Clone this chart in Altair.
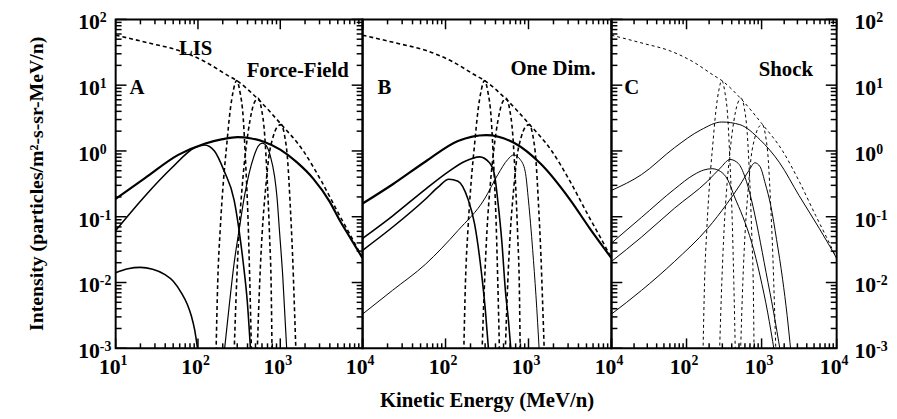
import altair as alt
import pandas as pd

# ---------------- data (log10 E [MeV/n], log10 Intensity) -------------
LIS_LE = [1.00, 1.44, 1.76, 2.08, 2.36, 2.47, 2.72, 3.00, 3.28, 3.50, 3.72, 3.86, 4.00]
LIS_LI = [1.76, 1.63, 1.53, 1.36, 1.15, 1.07, 0.80, 0.42, 0.00, -0.46, -0.98, -1.30, -1.63]

D1_LE = [2.22, 2.24, 2.27, 2.31, 2.35, 2.39, 2.43, 2.47, 2.51, 2.55, 2.58, 2.61, 2.63, 2.65]
D1_LI = [-3.05, -2.0, -1.2, -0.45, 0.1, 0.6, 0.92, 1.07, 0.9, 0.5, -0.2, -1.1, -2.0, -3.05]
D2_LE = [2.44, 2.47, 2.50, 2.54, 2.58, 2.63, 2.68, 2.73, 2.77, 2.81, 2.84, 2.87, 2.89, 2.90]
D2_LI = [-3.05, -2.0, -1.2, -0.5, 0.0, 0.45, 0.72, 0.80, 0.65, 0.25, -0.4, -1.3, -2.1, -3.05]
D3_LE = [2.72, 2.75, 2.78, 2.82, 2.86, 2.91, 2.96, 3.01, 3.05, 3.09, 3.12, 3.15, 3.17, 3.19]
D3_LI = [-3.05, -2.0, -1.25, -0.6, -0.1, 0.2, 0.36, 0.40, 0.25, -0.15, -0.8, -1.6, -2.3, -3.05]

# Panel A (force-field)
A_ENV_LE = [1.0, 1.36, 1.76, 2.08, 2.30, 2.48, 2.65, 2.80, 3.00, 3.20, 3.40, 3.60, 3.72, 3.84, 4.00]
A_ENV_LI = [-0.73, -0.41, -0.06, 0.11, 0.18, 0.21, 0.19, 0.14, 0.02, -0.17, -0.42, -0.77, -1.05, -1.30, -1.63]
A_2_LE = [1.0, 1.36, 1.68, 1.96, 2.08, 2.20, 2.32, 2.44, 2.50, 2.55, 2.60, 2.64]
A_2_LI = [-1.21, -0.68, -0.26, 0.05, 0.09, 0.0, -0.31, -0.75, -1.21, -1.7, -2.3, -3.05]
A_3_LE = [2.32, 2.38, 2.44, 2.50, 2.56, 2.62, 2.68, 2.73, 2.78, 2.83, 2.88, 2.93, 2.96, 2.99, 3.03, 3.08]
A_3_LI = [-3.05, -2.35, -1.7, -1.2, -0.72, -0.35, -0.08, 0.07, 0.12, 0.08, -0.08, -0.38, -0.7, -1.21, -1.9, -3.05]
A_4_LE = [1.0, 1.15, 1.30, 1.45, 1.60, 1.70, 1.80, 1.87, 1.92, 1.96, 2.00]
A_4_LI = [-1.85, -1.79, -1.77, -1.80, -1.88, -1.98, -2.16, -2.33, -2.51, -2.72, -3.05]

# Panel B (one dimensional)
B_ENV_LE = [1.0, 1.36, 1.76, 2.15, 2.49, 2.83, 3.15, 3.50, 3.74, 4.00]
B_ENV_LI = [-0.80, -0.51, -0.16, 0.15, 0.24, 0.12, -0.20, -0.74, -1.18, -1.63]
B_1_LE = [1.0, 1.36, 1.76, 1.91, 2.04, 2.15, 2.27, 2.35, 2.43, 2.48, 2.52]
B_1_LI = [-1.51, -1.16, -0.73, -0.55, -0.43, -0.46, -0.73, -1.11, -1.82, -2.42, -3.05]
B_2_LE = [1.0, 1.36, 1.76, 2.04, 2.23, 2.41, 2.53, 2.59, 2.63, 2.68, 2.72, 2.76, 2.79]
B_2_LI = [-1.33, -0.99, -0.58, -0.31, -0.16, -0.09, -0.18, -0.36, -0.76, -1.4, -2.1, -2.6, -3.05]
B_3_LE = [1.0, 1.36, 1.76, 2.15, 2.47, 2.63, 2.75, 2.82, 2.90, 2.96, 3.00, 3.05, 3.09, 3.13]
B_3_LI = [-2.48, -2.12, -1.72, -1.21, -0.73, -0.36, -0.13, -0.06, -0.13, -0.31, -0.76, -1.5, -2.2, -3.05]

# Panel C (shock)
C_ENV_LE = [1.0, 1.40, 1.84, 2.19, 2.47, 2.71, 2.98, 3.24, 3.50, 3.77, 4.00]
C_ENV_LI = [-0.60, -0.36, 0.05, 0.32, 0.44, 0.40, 0.17, -0.18, -0.68, -1.18, -1.63]
C_1_LE = [1.0, 1.40, 1.84, 2.10, 2.23, 2.34, 2.45, 2.55, 2.64, 2.75, 2.87, 2.98, 3.08, 3.17]
C_1_LI = [-1.40, -1.01, -0.58, -0.36, -0.29, -0.27, -0.31, -0.44, -0.70, -1.0, -1.4, -1.9, -2.45, -3.05]
C_2_LE = [1.0, 1.40, 1.84, 2.28, 2.45, 2.58, 2.69, 2.78, 2.86, 2.96, 3.06, 3.16, 3.25]
C_2_LI = [-1.68, -1.31, -0.87, -0.46, -0.26, -0.13, -0.19, -0.40, -0.72, -1.25, -1.85, -2.45, -3.05]
C_3_LE = [1.0, 1.40, 1.84, 2.28, 2.54, 2.71, 2.83, 2.91, 2.98, 3.05, 3.12, 3.20, 3.28, 3.34, 3.39]
C_3_LI = [-2.48, -2.12, -1.68, -1.18, -0.80, -0.52, -0.30, -0.18, -0.24, -0.50, -0.82, -1.35, -1.95, -2.5, -3.05]

# tick values / labels
X_MAJOR = [10, 100, 1000, 10000]
X_MINOR = [m * 10 ** d for d in (1, 2, 3) for m in range(2, 10)]
Y_MAJOR = [100, 10, 1, 0.1, 0.01, 0.001]
Y_MINOR = [m * 10.0 ** d for d in (-3, -2, -1, 0, 1) for m in range(2, 10)]
Y_EXP = ["2", "1", "0", "-1", "-2", "-3"]
X_EXP = {10: "1", 100: "2", 1000: "3", 10000: "4"}

H = 333
FONT = "Liberation Serif, Times New Roman, Times, DejaVu Serif, serif"
XS = alt.Scale(type="log", domain=[10, 10000], nice=False)
YS = alt.Scale(type="log", domain=[0.001, 100], nice=False)


def curve(le, li, width, dash=None):
    df = pd.DataFrame({"E": [10 ** v for v in le], "I": [10 ** v for v in li],
                       "o": list(range(len(le)))})
    kw = dict(color="black", strokeWidth=width, clip=True, interpolate="monotone")
    if dash:
        kw["strokeDash"] = dash
    return alt.Chart(df).mark_line(**kw).encode(
        x=alt.X("E:Q", scale=XS, axis=None),
        y=alt.Y("I:Q", scale=YS, axis=None),
        order="o:Q")


def xticks():
    out = []
    for vals, ln in ((X_MAJOR, 10), (X_MINOR, 5)):
        df = pd.DataFrame({"E": vals})
        base = alt.Chart(df).mark_rule(color="black", strokeWidth=1.5)
        out.append(base.encode(x=alt.X("E:Q", scale=XS, axis=None),
                               y=alt.value(H), y2=alt.value(H - ln)))
        out.append(base.encode(x=alt.X("E:Q", scale=XS, axis=None),
                               y=alt.value(0), y2=alt.value(ln)))
    return out


def yticks(W, left=True, right=True):
    out = []
    for vals, ln in ((Y_MAJOR, 11), (Y_MINOR, 6)):
        df = pd.DataFrame({"I": vals})
        base = alt.Chart(df).mark_rule(color="black", strokeWidth=1.5)
        if left:
            out.append(base.encode(y=alt.Y("I:Q", scale=YS, axis=None),
                                   x=alt.value(0), x2=alt.value(ln)))
        if right:
            out.append(base.encode(y=alt.Y("I:Q", scale=YS, axis=None),
                                   x=alt.value(W), x2=alt.value(W - ln)))
    return out


def xlabels(vals):
    df = pd.DataFrame({"E": vals, "t": ["10"] * len(vals), "e": [X_EXP[v] for v in vals]})
    a = alt.Chart(df).mark_text(font=FONT, fontWeight="bold", fontSize=22, align="right",
                                baseline="alphabetic", dx=5).encode(
        x=alt.X("E:Q", scale=XS, axis=None), y=alt.value(H + 26), text="t:N")
    b = alt.Chart(df).mark_text(font=FONT, fontWeight="bold", fontSize=14, align="left",
                                baseline="alphabetic", dx=5).encode(
        x=alt.X("E:Q", scale=XS, axis=None), y=alt.value(H + 17), text="e:N")
    return [a, b]


def ylabels(xanchor):
    df = pd.DataFrame({"I": Y_MAJOR, "t": ["10"] * len(Y_MAJOR), "e": Y_EXP})
    a = alt.Chart(df).mark_text(font=FONT, fontWeight="bold", fontSize=22, align="right",
                                baseline="alphabetic", dy=10).encode(
        y=alt.Y("I:Q", scale=YS, axis=None), x=alt.value(xanchor), text="t:N")
    b = alt.Chart(df).mark_text(font=FONT, fontWeight="bold", fontSize=14, align="left",
                                baseline="alphabetic", dy=3).encode(
        y=alt.Y("I:Q", scale=YS, axis=None), x=alt.value(xanchor), text="e:N")
    return [a, b]


def label(txt, x, y, align="left", size=21, angle=0):
    kw = dict(font=FONT, fontWeight="bold", fontSize=size, align=align, baseline="alphabetic")
    if angle:
        kw["angle"] = angle
    return alt.Chart(pd.DataFrame({"t": [txt]})).mark_text(**kw).encode(
        x=alt.value(x), y=alt.value(y), text="t:N")


def dashed(w, d):
    return [curve(LIS_LE, LIS_LI, w, d), curve(D1_LE, D1_LI, w, d),
            curve(D2_LE, D2_LI, w, d), curve(D3_LE, D3_LI, w, d)]


# ---------------- Panel A ----------------
WA = 250
A_layers = dashed(1.6, [4, 3]) + [
    curve(A_ENV_LE, A_ENV_LI, 2.2), curve(A_2_LE, A_2_LI, 1.6),
    curve(A_3_LE, A_3_LI, 1.2), curve(A_4_LE, A_4_LI, 1.6)]
A_layers += xticks() + yticks(WA) + xlabels(X_MAJOR) + ylabels(-16)
A_layers += [label("LIS", 81, 36, "center"), label("Force-Field", 236, 58, "right"),
             label("A", 14, 76),
             label("Intensity (particles/m²-s-sr-MeV/n)", -74, H / 2, "center", 20, 270)]
panelA = alt.layer(*A_layers).properties(width=WA, height=H)

# ---------------- Panel B ----------------
WB = 252
B_layers = dashed(1.6, [4, 3]) + [
    curve(B_ENV_LE, B_ENV_LI, 2.2), curve(B_1_LE, B_1_LI, 1.6),
    curve(B_2_LE, B_2_LI, 1.6), curve(B_3_LE, B_3_LI, 1.0)]
B_layers += xticks() + xlabels([100, 1000, 10000])
B_layers += [label("B", 15, 76), label("One Dim.", 236, 56, "right"),
             label("Kinetic Energy (MeV/n)", WB / 2, H + 59, "center", 21)]
panelB = alt.layer(*B_layers).properties(width=WB, height=H)

# ---------------- Panel C ----------------
WC = 228
C_layers = dashed(1.0, [3, 3]) + [
    curve(C_ENV_LE, C_ENV_LI, 1.0), curve(C_1_LE, C_1_LI, 1.0),
    curve(C_2_LE, C_2_LI, 1.0), curve(C_3_LE, C_3_LI, 1.0)]
C_layers += xticks() + yticks(WC) + xlabels([100, 1000, 10000]) + ylabels(WC + 40)
C_layers += [label("C", 13, 76), label("Shock", 204, 57, "right")]
panelC = alt.layer(*C_layers).properties(width=WC, height=H)

chart = alt.hconcat(panelA, panelB, panelC, spacing=0, bounds="flush").properties(
    padding={"left": 18, "top": 0, "right": 0, "bottom": 0},
    background="white",
).configure_view(stroke="black", strokeWidth=2)

chart.save("out.html", embed_options={"renderer": "svg", "actions": False})
